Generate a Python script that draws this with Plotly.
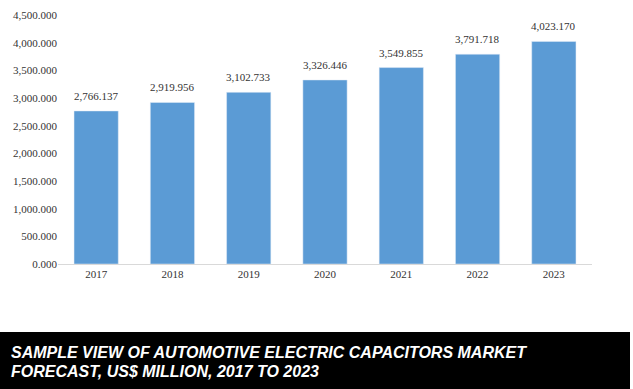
import plotly.graph_objects as go

years = ["2017", "2018", "2019", "2020", "2021", "2022", "2023"]
values = [2766.137, 2919.956, 3102.733, 3326.446, 3549.855, 3791.718, 4023.170]
title_lines = ["SAMPLE VIEW OF AUTOMOTIVE ELECTRIC CAPACITORS MARKET",
               "FORECAST, US$ MILLION, 2017 TO 2023"]

W, H = 633, 389
L, R, T, B = 58, 41, 15, 125
pw, ph = W - L - R, H - T - B

def px_x(x):
    return (x - L) / pw

def px_y(y):
    return (H - B - y) / ph

line_centers = [352, 371]

fig = go.Figure(go.Bar(
    x=years, y=values,
    marker_color="#5B9BD5",
    width=0.58,
    hovertemplate="%{x}: %{y:,.3f}<extra></extra>",
))

# category axis: annotation x given as category index
label_annotations = [dict(text=f"{v:,.3f}", x=i, y=v, xref="x", yref="y",
                          yanchor="middle", yshift=15, showarrow=False,
                          font=dict(family="Liberation Serif", size=11, color="#333333"))
                     for i, v in enumerate(values)]

title_annotations = [dict(text="<b><i>" + line + "</i></b>",
                          xref="paper", yref="paper", x=px_x(9), y=px_y(cy),
                          xanchor="left", yanchor="middle", align="left", showarrow=False,
                          font=dict(family="Liberation Sans", size=16, color="white"))
                     for line, cy in zip(title_lines, line_centers)]

fig.update_layout(
    width=W, height=H,
    margin=dict(l=L, r=R, t=T, b=B),
    paper_bgcolor="white", plot_bgcolor="white",
    showlegend=False,
    font=dict(family="Liberation Serif", size=11, color="#333333"),
    xaxis=dict(type="category", range=[-0.5, len(years) - 0.5],
               showline=True, linecolor="#D9D9D9", linewidth=1, ticks="",
               automargin=False,
               tickfont=dict(family="Liberation Serif", size=11, color="#333333")),
    yaxis=dict(range=[0, 4500], dtick=500, tickformat=",.3f", showgrid=False,
               zeroline=False, showline=False, ticks="", automargin=False,
               tickfont=dict(family="Liberation Serif", size=11, color="#333333")),
    shapes=[dict(type="rect", xref="paper", yref="paper",
                 x0=px_x(0), x1=px_x(630), y0=px_y(332), y1=px_y(389),
                 fillcolor="black", line_width=0, layer="above")],
    annotations=label_annotations + title_annotations,
)

fig.write_html("out.html", config={"displayModeBar": False},
               post_script="document.body.style.margin='0';document.body.style.overflow='hidden';")
